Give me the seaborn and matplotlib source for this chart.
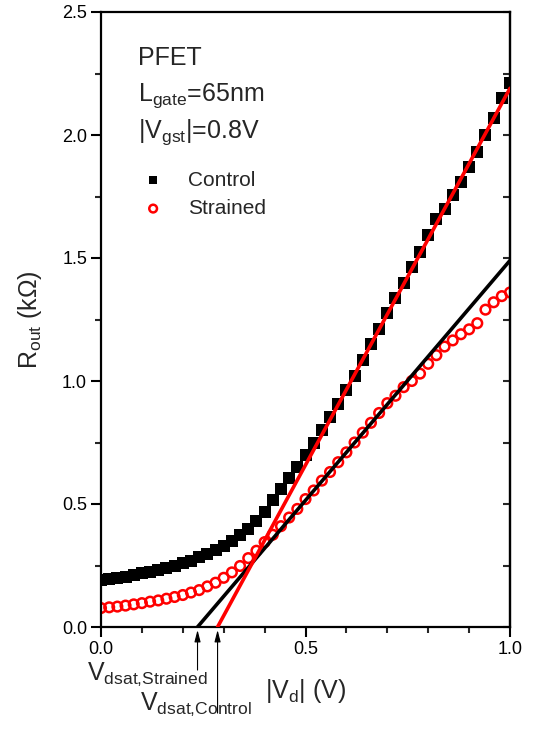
import numpy as np
import pandas as pd
import matplotlib
matplotlib.use('Agg')
import matplotlib.pyplot as plt
import seaborn as sns
from matplotlib.ticker import MultipleLocator

# |Vd| sweep (V)
vd = [0.00, 0.02, 0.04, 0.06, 0.08, 0.10, 0.12, 0.14, 0.16, 0.18,
      0.20, 0.22, 0.24, 0.26, 0.28, 0.30, 0.32, 0.34, 0.36, 0.38,
      0.40, 0.42, 0.44, 0.46, 0.48, 0.50, 0.52, 0.54, 0.56, 0.58,
      0.60, 0.62, 0.64, 0.66, 0.68, 0.70, 0.72, 0.74, 0.76, 0.78,
      0.80, 0.82, 0.84, 0.86, 0.88, 0.90, 0.92, 0.94, 0.96, 0.98, 1.00]

# Rout (kOhm), control device
r_control = [0.190, 0.195, 0.200, 0.205, 0.210, 0.218, 0.225, 0.232, 0.240, 0.250,
             0.260, 0.270, 0.283, 0.297, 0.312, 0.330, 0.350, 0.372, 0.398, 0.430,
             0.468, 0.515, 0.560, 0.605, 0.652, 0.700, 0.750, 0.800, 0.855, 0.905,
             0.965, 1.020, 1.085, 1.150, 1.210, 1.275, 1.336, 1.400, 1.465, 1.525,
             1.595, 1.660, 1.700, 1.755, 1.810, 1.870, 1.930, 2.000, 2.070, 2.150, 2.210]

# Rout (kOhm), strained device
r_strained = [0.077, 0.080, 0.083, 0.087, 0.092, 0.097, 0.103, 0.108, 0.115, 0.122,
              0.130, 0.140, 0.150, 0.165, 0.180, 0.200, 0.222, 0.248, 0.280, 0.310,
              0.345, 0.375, 0.410, 0.445, 0.480, 0.520, 0.555, 0.595, 0.630, 0.670,
              0.710, 0.750, 0.790, 0.830, 0.870, 0.910, 0.940, 0.975, 1.000, 1.030,
              1.070, 1.105, 1.140, 1.165, 1.190, 1.210, 1.235, 1.290, 1.320, 1.345, 1.360]

# linear fits
fit_strained_x = [0.236, 1.0]
fit_strained_y = [0.0, 1.49]
fit_control_x = [0.285, 1.0]
fit_control_y = [0.0, 2.19]

vdsat_strained = 0.236
vdsat_control = 0.285

df = pd.DataFrame({'vd': vd, 'control': r_control, 'strained': r_strained})

sns.set_style('ticks')
plt.rcParams['font.family'] = ['Liberation Sans', 'DejaVu Sans']
plt.rcParams['mathtext.fontset'] = 'custom'
plt.rcParams['mathtext.rm'] = 'Liberation Sans'
plt.rcParams['mathtext.it'] = 'Liberation Sans:italic'
plt.rcParams['mathtext.sf'] = 'Liberation Sans'

fig = plt.figure(figsize=(5.4, 7.34), dpi=100)
ax = fig.add_axes([101 / 540, 1 - 627 / 734, 409 / 540, 615 / 734])

sns.scatterplot(data=df, x='vd', y='control', marker='s', color='black', s=64,
                linewidth=0, label='Control', ax=ax, zorder=2)
sns.scatterplot(data=df, x='vd', y='strained', marker='o', facecolors='none',
                edgecolor='red', s=48, linewidth=1.8, label='Strained', ax=ax, zorder=2)
sns.lineplot(x=fit_strained_x, y=fit_strained_y, color='black', lw=2.6, ax=ax, zorder=3)
sns.lineplot(x=fit_control_x, y=fit_control_y, color='red', lw=2.6, ax=ax, zorder=4)

ax.set_xlim(0, 1)
ax.set_ylim(0, 2.5)
ax.xaxis.set_major_locator(MultipleLocator(0.5))
ax.xaxis.set_minor_locator(MultipleLocator(0.1))
ax.yaxis.set_major_locator(MultipleLocator(0.5))
ax.yaxis.set_minor_locator(MultipleLocator(0.25))
ax.tick_params(which='major', direction='out', length=7, width=1.5, labelsize=13,
               pad=3, colors='black')
ax.tick_params(which='minor', direction='out', length=4, width=1.5)
for s in ax.spines.values():
    s.set_visible(True)
    s.set_linewidth(1.6)
    s.set_color('black')

# right axis with inward ticks
sec = ax.secondary_yaxis('right')
sec.yaxis.set_major_locator(MultipleLocator(0.25))
sec.tick_params(direction='in', length=5, width=1.5, labelright=False)
sec.spines['right'].set_linewidth(1.6)

ax.set_xlabel(r'|V$_{\rm d}$| (V)', fontsize=18, labelpad=14)
ax.set_ylabel(r'R$_{\rm out}$ (kΩ)', fontsize=18, labelpad=13)

ax.text(0.09, 2.285, 'PFET', fontsize=18)
ax.text(0.09, 2.14, r'L$_{\rm gate}$=65nm', fontsize=18)
ax.text(0.09, 1.99, r'|V$_{\rm gst}$|=0.8V', fontsize=18)

ax.legend(loc='upper left', bbox_to_anchor=(0.102, 0.742), frameon=False, fontsize=15,
          handlelength=1.0, handletextpad=1.18, borderpad=0, borderaxespad=0,
          labelspacing=0.45, markerscale=0.8)

for xv, ybot in [(vdsat_strained, -0.175), (vdsat_control, -0.35)]:
    ax.annotate('', xy=(xv, -0.012), xytext=(xv, ybot),
                arrowprops=dict(arrowstyle='-|>,head_length=0.7,head_width=0.18',
                                color='black', lw=0.8, shrinkA=0, shrinkB=0,
                                mutation_scale=10),
                annotation_clip=False)

ax.text(-0.035, -0.215, r'V$_{\rm dsat{,}Strained}$', fontsize=18, va='baseline', clip_on=False)
ax.text(0.095, -0.337, r'V$_{\rm dsat{,}Control}$', fontsize=18, va='baseline', clip_on=False)

fig.savefig('out.png', dpi=100)
